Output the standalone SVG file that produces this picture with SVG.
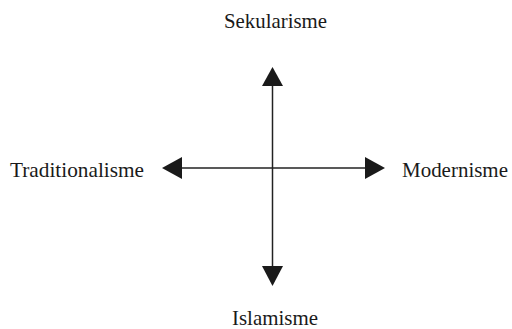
<svg xmlns="http://www.w3.org/2000/svg" width="512" height="329" viewBox="0 0 512 329">
<style>
.lbl{font-family:"Liberation Serif","Times New Roman",serif;font-size:21px;fill:#1a1a1a}
.ax{stroke:#222;stroke-width:1.5;fill:none}
.hd{fill:#1a1a1a}
</style>
<rect width="512" height="329" fill="#fff"/>
<g id="connectors">
<line class="ax" x1="272.5" y1="80" x2="272.5" y2="272"/>
<line class="ax" x1="176" y1="168" x2="370" y2="168"/>
<polygon class="hd" points="272.5,67 262,86 283,86"/>
<polygon class="hd" points="272.5,286 262,266 283,266"/>
<polygon class="hd" points="162,168 182,157 182,179"/>
<polygon class="hd" points="385,168 365,157 365,179"/>
</g>
<g id="sekularisme"><text class="lbl" x="224" y="28" textLength="103" lengthAdjust="spacingAndGlyphs">Sekularisme</text></g>
<g id="traditionalisme"><text class="lbl" x="10" y="177" textLength="134" lengthAdjust="spacingAndGlyphs">Traditionalisme</text></g>
<g id="modernisme"><text class="lbl" x="402" y="177" textLength="106" lengthAdjust="spacingAndGlyphs">Modernisme</text></g>
<g id="islamisme"><text class="lbl" x="232" y="325" textLength="86" lengthAdjust="spacingAndGlyphs">Islamisme</text></g>
</svg>
